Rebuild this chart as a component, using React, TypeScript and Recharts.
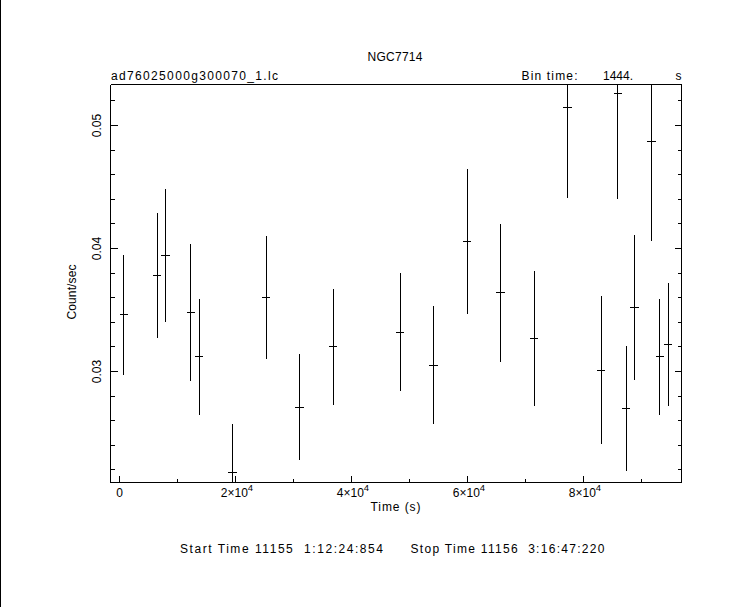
import React from 'react';
import { ScatterChart, Scatter, XAxis, YAxis, ErrorBar, Customized } from 'recharts';

// ---- data ----
const times = [722, 6498, 7942, 12274, 13718, 19494, 25270, 31046, 36822, 48374, 54150, 59926, 65702, 71478, 77254, 83030, 85918, 87362, 88806, 91694, 93138, 94582];
const rates = [0.0346, 0.0378, 0.0394, 0.0348, 0.0312, 0.0218, 0.0360, 0.0271, 0.0320, 0.0332, 0.0305, 0.0406, 0.0364, 0.0327, 0.0515, 0.0301, 0.0526, 0.0270, 0.0352, 0.0487, 0.0312, 0.0322];
const rateErrors = [0.0049, 0.0051, 0.0054, 0.0056, 0.0047, 0.0039, 0.0050, 0.0043, 0.0047, 0.0048, 0.0048, 0.0059, 0.0056, 0.0055, 0.0074, 0.0060, 0.0086, 0.0051, 0.0059, 0.0081, 0.0047, 0.0050];
const binHalfWidth = 722; // half of 1444 s bin

const xTicks = [0, 10000, 20000, 30000, 40000, 50000, 60000, 70000, 80000, 90000];
const yTicks = [0.022, 0.024, 0.026, 0.028, 0.03, 0.032, 0.034, 0.036, 0.038, 0.04, 0.042, 0.044, 0.046, 0.048, 0.05, 0.052];
const xDomain = [-1552, 96897];
const yDomain = [0.020976, 0.053333];

const titleText = 'NGC7714';
const fileText = 'ad76025000g300070_1.lc';
const binLabel = 'Bin time:';
const binValue = '1444.';
const binUnit = 's';
const xLabel = 'Time (s)';
const yLabel = 'Count/sec';
const startText = 'Start Time 11155  1:12:24:854';
const stopText = 'Stop Time 11156  3:16:47:220';

const data = times.map((t, i) => ({ t, rate: rates[i], terr: binHalfWidth, rerr: rateErrors[i] }));

// error bars are cut at the plot frame (the axis range), as in the reference
const yErrClipped = (d: any) => [
  Math.min(d.rerr, d.rate - yDomain[0]),
  Math.min(d.rerr, yDomain[1] - d.rate),
];

const FONT = { fontFamily: 'Liberation Sans', fontSize: 12, fill: '#000' };
const PRE = { whiteSpace: 'pre' as const };

const isMajorX = (v: number) => v % 20000 === 0;
const isMajorY = (v: number) => Math.abs(v * 100 - Math.round(v * 100)) < 1e-6;

function BottomTick(props: any) {
  const { x, y, payload } = props;
  const v = payload.value;
  const major = isMajorX(v);
  return (
    <g>
      <line x1={x} y1={y} x2={x} y2={y - (major ? 7 : 4)} stroke="#000" strokeWidth={1} />
      {major && (v === 0 ? (
        <text x={x} y={y + 14.5} textAnchor="middle" {...FONT}>0</text>
      ) : (
        <text x={x + 1.5} y={y + 14.5} textAnchor="middle" {...FONT}>
          {`${v / 10000}×10`}
          <tspan dy={-6} fontSize={9.5}>4</tspan>
        </text>
      ))}
    </g>
  );
}

function TopTick(props: any) {
  const { x, y, payload } = props;
  const major = isMajorX(payload.value);
  return <line x1={x} y1={y} x2={x} y2={y + (major ? 7 : 4)} stroke="#000" strokeWidth={1} />;
}

function LeftTick(props: any) {
  const { x, y, payload } = props;
  const v = payload.value;
  const major = isMajorY(v);
  const lx = x - 9.5;
  return (
    <g>
      <line x1={x} y1={y} x2={x + (major ? 7 : 4)} y2={y} stroke="#000" strokeWidth={1} />
      {major && (
        <text x={lx} y={y} transform={`rotate(-90 ${lx} ${y})`} textAnchor="middle" {...FONT}>
          {v.toFixed(2)}
        </text>
      )}
    </g>
  );
}

function RightTick(props: any) {
  const { x, y, payload } = props;
  const major = isMajorY(payload.value);
  return <line x1={x} y1={y} x2={x - (major ? 7 : 4)} y2={y} stroke="#000" strokeWidth={1} />;
}

function Texts() {
  return (
    <g>
      <text x={395} y={61} textAnchor="middle" textLength={55} lengthAdjust="spacing" {...FONT}>{titleText}</text>
      <text x={111} y={79.5} textLength={167} lengthAdjust="spacing" {...FONT}>{fileText}</text>
      <text x={521.5} y={79.5} textLength={56} lengthAdjust="spacing" {...FONT}>{binLabel}</text>
      <text x={603} y={79.5} textLength={30} lengthAdjust="spacing" {...FONT}>{binValue}</text>
      <text x={675.5} y={79.5} {...FONT}>{binUnit}</text>
      <text x={395.5} y={511} textAnchor="middle" textLength={50} lengthAdjust="spacing" {...FONT} style={PRE}>{xLabel}</text>
      <text x={76} y={292} transform="rotate(-90 76 292)" textAnchor="middle" textLength={55} lengthAdjust="spacing" {...FONT}>{yLabel}</text>
      <text x={180} y={553} textLength={203} lengthAdjust="spacing" {...FONT} style={PRE}>{startText}</text>
      <text x={410.5} y={553} textLength={194} lengthAdjust="spacing" {...FONT} style={PRE}>{stopText}</text>
    </g>
  );
}

const NoShape = () => <g />;

export default function App() {
  return (
    <div className="chart" style={{ position: 'absolute', left: 0, top: 0, width: 743, height: 607, background: '#fff' }}>
      <style>{`.chart svg line { shape-rendering: crispEdges; }`}</style>
      <div style={{ position: 'absolute', left: 0, top: 0, width: 1, height: 607, background: '#000' }} />
      <ScatterChart width={743} height={607} margin={{ top: 83.5, right: 60.5, bottom: 123.5, left: 109.5 }}>
        <XAxis xAxisId="b" orientation="bottom" type="number" dataKey="t" domain={xDomain} allowDataOverflow
          ticks={xTicks} interval={0} height={1} tickSize={0} tickMargin={0} tickLine={false}
          axisLine={{ stroke: '#000', strokeWidth: 1 }} tick={<BottomTick />} />
        <XAxis xAxisId="t" orientation="top" type="number" domain={xDomain} allowDataOverflow
          ticks={xTicks} interval={0} height={1} tickSize={0} tickMargin={0} tickLine={false}
          axisLine={{ stroke: '#000', strokeWidth: 1 }} tick={<TopTick />} />
        <YAxis yAxisId="l" orientation="left" type="number" dataKey="rate" domain={yDomain} allowDataOverflow
          ticks={yTicks} interval={0} width={1} tickSize={0} tickMargin={0} tickLine={false}
          axisLine={{ stroke: '#000', strokeWidth: 1 }} tick={<LeftTick />} />
        <YAxis yAxisId="r" orientation="right" type="number" domain={yDomain} allowDataOverflow
          ticks={yTicks} interval={0} width={1} tickSize={0} tickMargin={0} tickLine={false}
          axisLine={{ stroke: '#000', strokeWidth: 1 }} tick={<RightTick />} />
        <Scatter data={data} xAxisId="b" yAxisId="l" isAnimationActive={false} shape={<NoShape />}>
          <ErrorBar dataKey={yErrClipped} direction="y" width={0} stroke="#000" strokeWidth={1} isAnimationActive={false} />
          <ErrorBar dataKey="terr" direction="x" width={0} stroke="#000" strokeWidth={1} isAnimationActive={false} />
        </Scatter>
        <Customized component={<Texts />} />
      </ScatterChart>
    </div>
  );
}
